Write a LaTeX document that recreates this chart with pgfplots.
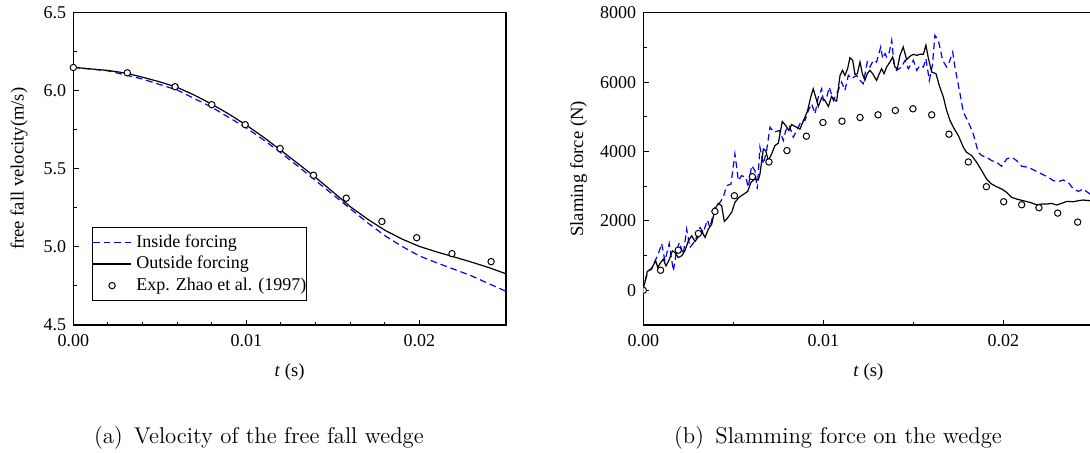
\documentclass[border=0pt]{standalone}
\usepackage{pgfplots}
\pgfplotsset{compat=1.18}
\usepackage{fontspec}
\newfontfamily\tnr{Liberation Serif}
\pgfplotsset{
  common/.style={
    scale only axis,
    height=156.15pt,
    anchor=south west,
    tick align=inside,
    tick pos=left,
    major tick length=2.6pt,
    minor tick length=1.6pt,
    every tick/.style={black, line width=0.5pt},
    axis line style={line width=0.6pt},
    /pgf/number format/assume math mode=true,
    tick label style={font=\tnr\fontsize{9}{10}\selectfont},
    label style={font=\tnr\fontsize{9.3}{10}\selectfont},
    xmin=0, xmax=0.025,
    xtick={0,0.01,0.02},
    scaled x ticks=false,
    scaled y ticks=false,
    x tick label style={/pgf/number format/fixed, /pgf/number format/fixed zerofill, /pgf/number format/precision=2, yshift=-1pt},
    xlabel={\textit{t} (s)},
    xlabel style={at={(axis description cs:0.5,-0.1495)}, anchor=center},
  },
  inside/.style={color=blue, line width=0.6pt, dash pattern=on 3.3pt off 2pt},
  outside/.style={color=black, line width=0.6pt},
  expm/.style={only marks, mark=*, mark size=1.6pt, mark options={fill=white, draw=black, line width=0.5pt}},
}
\begin{document}
\begin{tikzpicture}
\useasboundingbox (0,0) rectangle (545pt,-226.5pt);
% ---------------- (a) ----------------
\begin{axis}[common,
  at={(36.65pt,-162.5pt)}, width=216.35pt,
  ymin=4.5, ymax=6.5, ytick={4.5,5,5.5,6,6.5},
  minor x tick num=4, minor y tick num=1,
  y tick label style={/pgf/number format/fixed, /pgf/number format/fixed zerofill, /pgf/number format/precision=1},
  ylabel={free fall velocity(m/s)},
  ylabel style={at={(axis description cs:-0.1255,0.5)}, anchor=center},
  legend style={at={(0.0439,0.3148)}, anchor=north west, fill=white, draw=black,
    font=\tnr\fontsize{9}{10}\selectfont, inner xsep=0pt, inner ysep=2.2pt, row sep=0pt, column sep=2.5pt,
    nodes={inner ysep=1.5pt, inner xsep=0pt},
    cells={anchor=west}},
  legend image code/.code={\draw[mark repeat=2,mark phase=2,#1] plot coordinates {(0pt,0pt) (9.4pt,0pt) (18.8pt,0pt)};},
]
\addplot[inside] table {
t v
0 6.15
0.002 6.128
0.004 6.075
0.006 6.005
0.008 5.895
0.010 5.762
0.011 5.685
0.012 5.602
0.013 5.515
0.014 5.425
0.015 5.335
0.016 5.245
0.017 5.155
0.018 5.072
0.019 5.003
0.020 4.942
0.021 4.898
0.022 4.857
0.023 4.815
0.024 4.765
0.025 4.716
};
\addlegendentry{Inside forcing}
\addplot[outside] table {
t v
0 6.15
0.002 6.13
0.003 6.114
0.004 6.087
0.005 6.057
0.006 6.022
0.007 5.972
0.008 5.914
0.009 5.85
0.010 5.78
0.011 5.702
0.012 5.618
0.013 5.532
0.014 5.445
0.015 5.352
0.016 5.258
0.017 5.178
0.018 5.107
0.019 5.05
0.020 5.003
0.021 4.968
0.022 4.936
0.023 4.903
0.024 4.868
0.025 4.828
};
\addlegendentry{Outside forcing}
\addplot[expm] table {
t v
0 6.149
0.00312 6.115
0.00588 6.026
0.0080 5.911
0.00993 5.783
0.01195 5.630
0.01388 5.459
0.01577 5.312
0.01783 5.163
0.01984 5.059
0.02188 4.957
0.02414 4.906
};
\addlegendentry{Exp. Zhao et al. (1997)}
\end{axis}
% ---------------- (b) ----------------
\begin{axis}[common,
  at={(321.65pt,-162.5pt)}, width=225pt,
  ymin=-1000, ymax=8000, ytick={0,2000,4000,6000,8000},
  minor x tick num=1, minor y tick num=1,
  y tick label style={/pgf/number format/1000 sep={}},
  ylabel={Slaming force (N)},
  ylabel style={at={(axis description cs:-0.1436,0.5)}, anchor=center},
  clip marker paths=true,
]
\addplot[inside] table {
t F
0.00009 270
0.00028 559
0.00046 607
0.00065 848
0.00083 1040
0.00102 1349
0.00120 848
0.00144 1349
0.00167 559
0.00185 1137
0.00200 1378
0.00222 1040
0.00241 1763
0.00259 1233
0.00287 1426
0.00315 1811
0.00333 1667
0.00356 2023
0.00370 1811
0.00398 2389
0.00426 2533
0.00444 2678
0.00463 3015
0.00487 3063
0.00509 3930
0.00528 3160
0.00546 3304
0.00570 3256
0.00583 2967
0.00602 3593
0.00620 3449
0.00633 2919
0.00648 4123
0.00667 3641
0.00685 4027
0.00704 4701
0.00726 4556
0.00756 4605
0.00778 4316
0.00791 4605
0.00811 4749
0.00833 4412
0.00861 4701
0.00880 4894
0.00898 4894
0.00917 5183
0.00935 5375
0.00954 5086
0.00972 5568
0.00991 5809
0.01000 5472
0.01019 5568
0.01033 5857
0.01056 5472
0.01083 5761
0.01102 6001
0.01120 5761
0.01139 6194
0.01157 6098
0.01185 6194
0.01204 6050
0.01222 5953
0.01244 6579
0.01259 6435
0.01278 6628
0.01296 6579
0.01319 7013
0.01330 6676
0.01343 6820
0.01352 6724
0.01367 6868
0.01380 7206
0.01393 6531
0.01407 6338
0.01435 6435
0.01454 6628
0.01472 6387
0.01500 6628
0.01519 6338
0.01537 6483
0.01556 6435
0.01570 6676
0.01589 6050
0.01606 6483
0.01620 7350
0.01639 7206
0.01663 6628
0.01685 6435
0.01700 6579
0.01719 6868
0.01731 6435
0.01756 5761
0.01778 5134
0.01806 4845
0.01833 4508
0.01861 3978
0.01880 3882
0.01907 3834
0.01935 3738
0.01963 3689
0.01991 3574
0.02019 3786
0.02046 3834
0.02074 3738
0.02102 3574
0.02139 3545
0.02176 3449
0.02213 3352
0.02250 3256
0.02278 3160
0.02306 3131
0.02333 3179
0.02361 3111
0.02389 2919
0.02417 2851
0.02444 2919
0.02481 2774
0.02500 2700
};
\addplot[outside] table {
t F
0.00002 100
0.00009 222
0.00022 539
0.00046 636
0.00069 848
0.00080 655
0.00096 800
0.00111 896
0.00126 703
0.00143 867
0.00161 1137
0.00176 1089
0.00194 944
0.00213 992
0.00231 1137
0.00250 1426
0.00269 1570
0.00287 1406
0.00306 1541
0.00324 1715
0.00343 1522
0.00361 1763
0.00380 1907
0.00398 2341
0.00417 2505
0.00435 2437
0.00450 1984
0.00463 2052
0.00491 2245
0.00509 2533
0.00531 2678
0.00559 2774
0.00580 2851
0.00598 3111
0.00620 3208
0.00639 3179
0.00648 3352
0.00667 4075
0.00680 4027
0.00694 3738
0.00713 3930
0.00731 4171
0.00750 4239
0.00772 4865
0.00791 4749
0.00809 4605
0.00824 4778
0.00843 4720
0.00861 4682
0.00870 4643
0.00898 4990
0.00913 5183
0.00930 5568
0.00944 5809
0.00963 5472
0.00972 5298
0.00991 5549
0.01009 5472
0.01028 5298
0.01046 5587
0.01065 5472
0.01074 5452
0.01093 6194
0.01107 6338
0.01120 6194
0.01135 6387
0.01148 6705
0.01163 6628
0.01176 6223
0.01189 6242
0.01204 6579
0.01217 6242
0.01231 6050
0.01244 6242
0.01259 6338
0.01274 6242
0.01296 6050
0.01311 6242
0.01324 6387
0.01337 6242
0.01352 6435
0.01370 6579
0.01385 6724
0.01398 6435
0.01411 6387
0.01426 6772
0.01444 7013
0.01463 6647
0.01481 6743
0.01500 6801
0.01519 6772
0.01537 6801
0.01556 6801
0.01570 7064
0.01583 6705
0.01602 6290
0.01626 6242
0.01644 5905
0.01667 5568
0.01685 5183
0.01704 4894
0.01722 4701
0.01750 4460
0.01778 4123
0.01796 3978
0.01824 3882
0.01852 3689
0.01880 3448
0.01907 3207
0.01935 3063
0.01963 2986
0.01991 2919
0.02019 2822
0.02046 2678
0.02074 2630
0.02111 2582
0.02148 2533
0.02185 2466
0.02213 2485
0.02241 2485
0.02269 2505
0.02296 2457
0.02324 2505
0.02352 2562
0.02389 2553
0.02417 2582
0.02444 2601
0.02481 2582
0.02500 2600
};
\addplot[expm] table {
t F
0 0
0.00096 578
0.00194 1156
0.00306 1638
0.00398 2273
0.00506 2726
0.00606 3275
0.00698 3699
0.00798 4027
0.00906 4441
0.00998 4836
0.01104 4874
0.01204 4980
0.01304 5057
0.01400 5183
0.01498 5231
0.01602 5057
0.01698 4499
0.01806 3699
0.01906 2986
0.02002 2553
0.02102 2466
0.02198 2379
0.02302 2225
0.02413 1965
};
\end{axis}
% ---------------- captions ----------------
\node[anchor=center, font=\fontsize{11.4}{13}\selectfont] at (129.5pt,-219pt) {(a)\enspace Velocity of the free fall wedge};
\node[anchor=center, font=\fontsize{11.4}{13}\selectfont] at (419pt,-219pt) {(b)\enspace Slamming force on the wedge};
\end{tikzpicture}
\end{document}
